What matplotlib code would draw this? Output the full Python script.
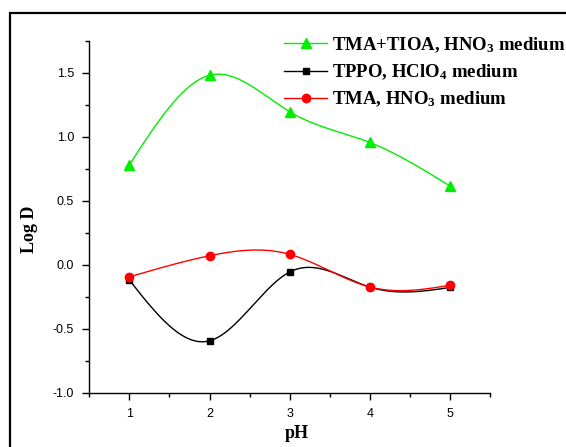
import numpy as np
import matplotlib
matplotlib.use("Agg")
import matplotlib.pyplot as plt
from matplotlib.patches import Rectangle
from matplotlib.ticker import MultipleLocator

ph = [1, 2, 3, 4, 5]
tma_tioa = [0.78, 1.48, 1.195, 0.955, 0.615]
tppo = [-0.12, -0.595, -0.057, -0.175, -0.178]
tma = [-0.095, 0.07, 0.081, -0.174, -0.161]

labels = ["TMA+TIOA, HNO$_3$ medium", "TPPO, HClO$_4$ medium", "TMA, HNO$_3$ medium"]


def natural_spline(x, y, n=200):
    # natural cubic spline through the points (Origin style "spline" connection)
    x = np.asarray(x, float)
    y = np.asarray(y, float)
    k = len(x)
    h = np.diff(x)
    A = np.zeros((k, k))
    r = np.zeros(k)
    A[0, 0] = 1
    A[-1, -1] = 1
    for i in range(1, k - 1):
        A[i, i - 1] = h[i - 1]
        A[i, i] = 2 * (h[i - 1] + h[i])
        A[i, i + 1] = h[i]
        r[i] = 6 * ((y[i + 1] - y[i]) / h[i] - (y[i] - y[i - 1]) / h[i - 1])
    M = np.linalg.solve(A, r)
    xs = np.linspace(x[0], x[-1], n)
    idx = np.clip(np.searchsorted(x, xs) - 1, 0, k - 2)
    x0, x1 = x[idx], x[idx + 1]
    hh = x1 - x0
    a = (x1 - xs) / hh
    b = (xs - x0) / hh
    ys = a * y[idx] + b * y[idx + 1] + ((a**3 - a) * M[idx] + (b**3 - b) * M[idx + 1]) * hh**2 / 6
    return xs, ys


plt.rcParams["font.family"] = "Liberation Sans"
plt.rcParams["axes.unicode_minus"] = False
plt.rcParams["mathtext.fontset"] = "custom"
plt.rcParams["mathtext.default"] = "regular"
plt.rcParams["mathtext.rm"] = "Liberation Serif:bold"

fig = plt.figure(figsize=(5.66, 4.47), dpi=100)
ax = fig.add_axes([89.3 / 566, 1 - 392.7 / 447, 400.7 / 566, 352 / 447])

# outer frame
fig.patches.append(Rectangle((10 / 566, -0.2), 1.2, 1.2 - 13 / 447, transform=fig.transFigure,
                             fill=False, edgecolor="black", linewidth=1.6))

series = [(tma_tioa, "#00ee00", "^", 6.5), (tppo, "black", "s", 4.8), (tma, "red", "o", 6)]
handles = []
for (vals, col, mk, ms), lab in zip(series, labels):
    xs, ys = natural_spline(ph, vals)
    ax.plot(xs, ys, color=col, linewidth=1.0)
    ax.plot(ph, vals, linestyle="none", marker=mk, color=col, markersize=ms)
    h, = ax.plot([], [], color=col, marker=mk, markersize=ms, linewidth=1.0, label=lab)
    handles.append(h)

ax.set_xlim(0.5, 5.5)
ax.set_ylim(-1.0, 1.75)
ax.xaxis.set_major_locator(MultipleLocator(1))
ax.xaxis.set_minor_locator(MultipleLocator(0.5))
ax.yaxis.set_major_locator(MultipleLocator(0.5))
ax.yaxis.set_minor_locator(MultipleLocator(0.25))
ax.set_xticks([1, 2, 3, 4, 5])
ax.set_yticks([-1.0, -0.5, 0.0, 0.5, 1.0, 1.5])
ax.tick_params(which="major", direction="out", length=5, width=1, labelsize=9, pad=6)
ax.tick_params(which="minor", direction="out", length=3, width=1)
for s in ["top", "right"]:
    ax.spines[s].set_visible(False)
for s in ["left", "bottom"]:
    ax.spines[s].set_linewidth(1)

ax.set_xlabel("pH", fontfamily="Liberation Serif", fontweight="bold", fontsize=13)
ax.set_ylabel("Log D", fontfamily="Liberation Serif", fontweight="bold", fontsize=13)
ax.xaxis.set_label_coords((297 - 89.3) / 400.7, (392.7 - 425) / 352)
ax.yaxis.set_label_coords((38 - 89.3) / 400.7, (392.7 - 229) / 352)

fig.legend(handles=handles, loc="upper left", bbox_to_anchor=(284 / 566, 1 - 35 / 447),
           frameon=False, handlelength=2.3, handletextpad=0.25, labelspacing=0.42,
           borderaxespad=0, borderpad=0,
           prop={"family": "Liberation Serif", "weight": "bold", "size": 13.5})

fig.savefig("out.png", dpi=100)
